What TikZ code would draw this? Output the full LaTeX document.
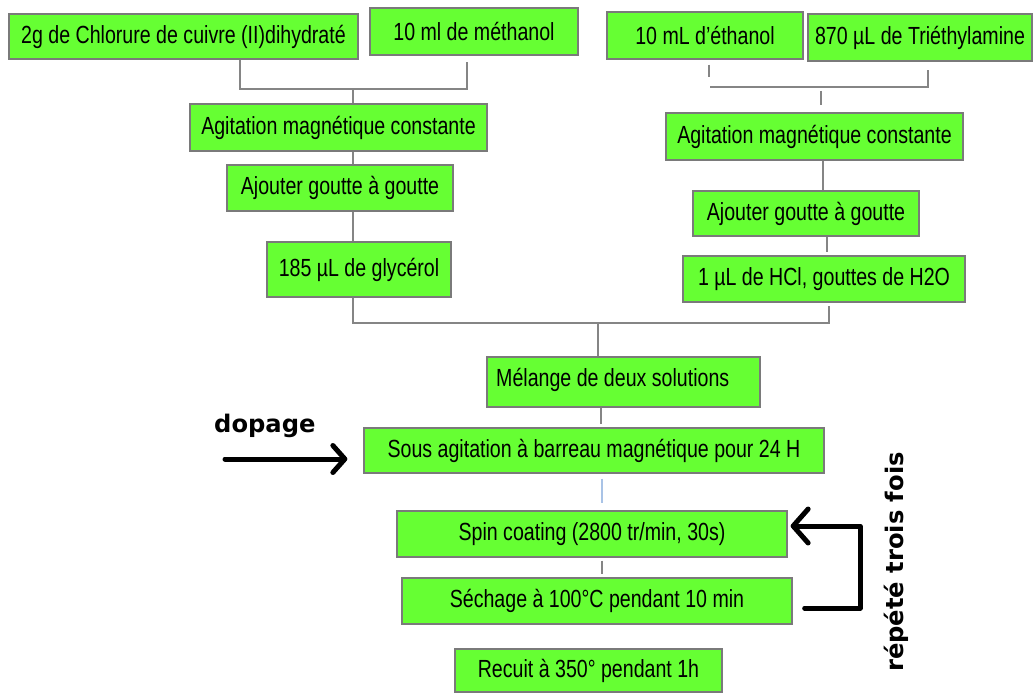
\documentclass[tikz,border=0pt]{standalone}
\usepackage{fontspec}
\setmainfont{Liberation Sans}
\newfontfamily\boxfont[FakeStretch=0.79]{Liberation Sans}
\newfontfamily\notefont{DejaVu Sans}
\usetikzlibrary{arrows.meta}
\definecolor{stepgreen}{HTML}{66FF33}
\definecolor{stepedge}{HTML}{7A7A7A}
\definecolor{linkgray}{HTML}{858585}
\definecolor{paleblue}{HTML}{A9C3E6}
\begin{document}
\begin{tikzpicture}[x=1pt,y=-1pt,
  stepbox/.style={draw=stepedge, line width=1.3pt, fill=stepgreen, inner sep=0pt,
    font=\boxfont\fontsize{24.8}{28}\selectfont, text=black},
  link/.style={draw=linkgray, line width=1.4pt},
  bigarrow/.style={line width=5pt, line cap=round, line join=round},
  note/.style={font=\notefont\bfseries\fontsize{24.2}{28}\selectfont, inner sep=0pt}
]
\useasboundingbox (0,0) rectangle (1034,693);

% left branch
\node[stepbox, minimum width=349pt, minimum height=45pt] (b1) at (183.5,36.5) {2g de Chlorure de cuivre (II)dihydraté};
\node[stepbox, minimum width=208pt, minimum height=47pt] (b2) at (474,31.5) {10 ml de méthanol};
\node[stepbox, minimum width=297pt, minimum height=47pt] (b5) at (338.5,127.5) {Agitation magnétique constante};
\node[stepbox, minimum width=226pt, minimum height=46pt] (b6) at (340,188) {Ajouter goutte à goutte};
\node[stepbox, minimum width=184pt, minimum height=55pt] (b7) at (359,269.5) {185 µL de glycérol};

% right branch
\node[stepbox, minimum width=196pt, minimum height=47pt] (b3) at (705,35.5) {10 mL d’éthanol};
\node[stepbox, minimum width=224pt, minimum height=47pt] (b4) at (920,37.5) {870 µL de Triéthylamine};
\node[stepbox, minimum width=297pt, minimum height=47pt] (b8) at (814.5,136.5) {Agitation magnétique constante};
\node[stepbox, minimum width=226pt, minimum height=45pt] (b9) at (806,213.5) {Ajouter goutte à goutte};
\node[stepbox, minimum width=282pt, minimum height=46pt] (b10) at (824,279) {1 µL de HCl, gouttes de H2O};

% common trunk
\node[stepbox, minimum width=273pt, minimum height=50pt] (b11) at (623.5,382) {};
\node[font=\boxfont\fontsize{24.8}{28}\selectfont, inner sep=0pt, anchor=west] (b11t) at (496,380) {Mélange de deux solutions};
\node[stepbox, minimum width=460pt, minimum height=45pt] (b12) at (594,450.5) {Sous agitation à barreau magnétique pour 24 H};
\node[stepbox, minimum width=390pt, minimum height=46pt] (b13) at (592,534) {Spin coating (2800 tr/min, 30s)};
\node[stepbox, minimum width=390pt, minimum height=46pt] (b14) at (597,601) {Séchage à 100°C pendant 10 min};
\node[stepbox, minimum width=267pt, minimum height=43pt] (b15) at (588.5,670.5) {Recuit à 350° pendant 1h};

% junction points
\coordinate (jL) at (353,89);
\coordinate (jR) at (821,87);
\coordinate (jM) at (598,323);

% left inputs
\draw[link] ([xshift=56.5pt]b1.south) |- (jL) -| ([xshift=-7pt,yshift=-6pt]b2.south);
\draw[link] (jL) -- (jL |- b5.north);
\draw[link] ([xshift=14.5pt]b5.south) -- ([xshift=14.5pt]b5.south |- b6.north);
\draw[link] ([xshift=13pt]b6.south) -- ([xshift=13pt]b6.south |- b7.north);

% right inputs
\draw[link] ([xshift=4pt,yshift=-5pt]b3.south) -- ++(0,12);
\draw[link] ([xshift=-111pt]jR) -- (jR) -| ([xshift=8pt,yshift=-8pt]b4.south);
\draw[link] ([yshift=-4pt]jR) -- ([yshift=7pt]jR |- b8.north);
\draw[link] ([xshift=8.5pt]b8.south) -- ([xshift=8.5pt]b8.south |- b9.north);
\draw[link] ([xshift=21pt]b9.south) -- ([xshift=21pt,yshift=3pt]b9.south |- b10.north);

% merging the two solutions
\draw[link] ([xshift=-6pt]b7.south) |- (jM) -| ([xshift=5pt,yshift=-3pt]b10.south);
\draw[link] (jM) -- (jM |- b11.north);
\draw[link] ([xshift=-22.5pt]b11.south) -- ([xshift=-22.5pt,yshift=3pt]b11.south |- b12.north);
\draw[paleblue, line width=2pt] ([xshift=8pt,yshift=-5pt]b12.south) -- ([xshift=8pt,yshift=7pt]b12.south |- b13.north);
\draw[link] ([xshift=10pt,yshift=-3pt]b13.south) -- ([xshift=10pt,yshift=3pt]b13.south |- b14.north);

% doping input
\coordinate (dopin) at (225,459);
\node[note, anchor=base west] (dop) at (214,432) {dopage};
\draw[bigarrow, -{Straight Barb[length=12pt,width=27pt,round]}] (dopin) -- ([xshift=-16pt,yshift=-8.5pt]b12.west);

% repetition loop
\coordinate (lp) at (860,526);
\draw[bigarrow, -{Straight Barb[length=15pt,width=34pt,round]}]
  ([xshift=12pt,yshift=-7pt]b14.east) -| (lp) -- ([xshift=3pt]b13.east |- lp);
\node[note, rotate=90, anchor=base west] (rep) at (903,672) {répété trois fois};
\end{tikzpicture}
\end{document}
